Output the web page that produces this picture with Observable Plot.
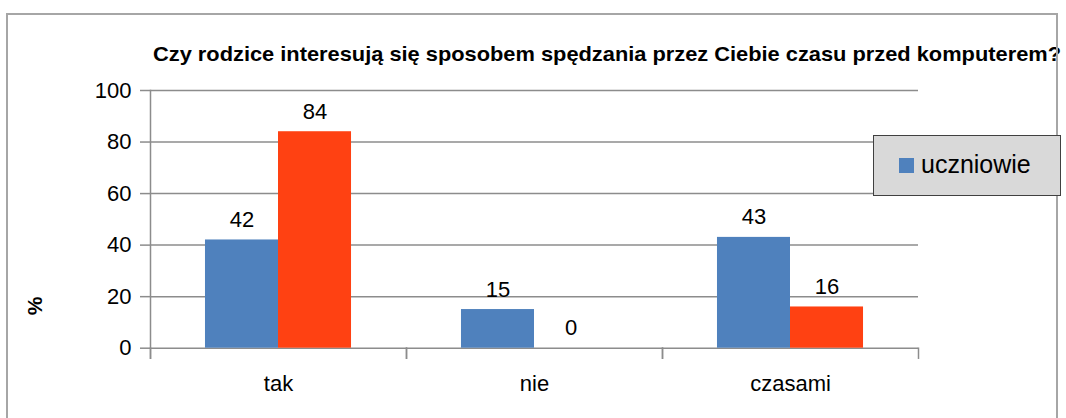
<!DOCTYPE html>
<html>
<head>
<meta charset="utf-8">
<script src="https://cdn.jsdelivr.net/npm/d3@7"></script>
<script src="https://cdn.jsdelivr.net/npm/@observablehq/plot@0.6"></script>
<style>
  html, body { margin: 0; padding: 0; background: white; }
  #wrap { position: relative; width: 1066px; height: 418px; overflow: hidden; font-family: "Liberation Sans", Arial, sans-serif; }
  #border { position: absolute; left: 6px; top: 13px; width: 1052px; height: 430px; border: 2px solid #a6a6a6; box-sizing: border-box; pointer-events: none; }
  #legend { position: absolute; left: 873px; top: 135px; width: 188px; height: 61px; background: #d9d9d9; border: 1.5px solid #404040; box-sizing: border-box; }
  #legend .sw { position: absolute; left: 25px; top: 22px; width: 15px; height: 15px; }
  #legend .lb { position: absolute; left: 47px; top: 13px; font-size: 25px; line-height: 30px; color: #000; }
  #pct { position: absolute; left: 35px; top: 306px; transform: translate(-50%, -50%) rotate(-90deg); font-weight: bold; font-size: 21px; }
</style>
</head>
<body>
<div id="wrap"></div>
<script>
const categories = ["tak", "nie", "czasami"];
const seriesNames = ["uczniowie", "rodzice"];
const uczniowie = [42, 15, 43];
const rodzice = [84, 0, 16];
const yTicks = [0, 20, 40, 60, 80, 100];
const colors = ["#4f81bd", "#ff4112"];
const titleText = "Czy rodzice interesują się sposobem spędzania przez Ciebie czasu przed komputerem?";
const legendNames = ["uczniowie"];
const yLabel = "%";

const data = categories.flatMap((c, i) => [
  {category: c, series: seriesNames[0], value: uczniowie[i]},
  {category: c, series: seriesNames[1], value: rodzice[i]}
]);

const gray = "#8c8c8c";
const chart = Plot.plot({
  width: 1066,
  height: 418,
  marginLeft: 150,
  marginRight: 148,
  marginTop: 90,
  marginBottom: 70.3,
  style: {fontFamily: "Liberation Sans, Arial, sans-serif", fontSize: "22px", background: "transparent", color: "black", overflow: "visible"},
  fx: {domain: categories, padding: 0, round: false, label: null, axis: null},
  x: {domain: seriesNames, paddingInner: 0, paddingOuter: 0.753, round: false, axis: null},
  y: {domain: [0, 100], label: null},
  color: {domain: seriesNames, range: colors},
  marks: [
    Plot.gridY(yTicks, {stroke: gray, strokeOpacity: 1, strokeWidth: 1.5}),
    Plot.barY(data, {fx: "category", x: "series", y: "value", fill: "series"}),
    Plot.text(data, {fx: "category", x: "series", y: "value", text: d => String(d.value), lineAnchor: "bottom", dy: -13, fill: "black", fontSize: 22}),
    Plot.axisY(yTicks, {tickSize: 10, tickPadding: 9, stroke: gray, strokeWidth: 1.5, fill: "black", label: null, fontSize: 22}),
    Plot.axisFx({anchor: "bottom", tickSize: 0, tickPadding: 27, label: null, fontSize: 22, fill: "black"}),
    Plot.frame({anchor: "left", facetAnchor: "left", insetBottom: -10, stroke: gray, strokeWidth: 1.5}),
    Plot.frame({anchor: "left", insetTop: 257.7, insetBottom: -10, stroke: gray, strokeWidth: 1.5}),
    Plot.frame({anchor: "right", insetTop: 257.7, insetBottom: -10, stroke: gray, strokeWidth: 1.5})
  ]
});

const wrap = document.getElementById("wrap");
wrap.appendChild(chart);

d3.select(chart).append("text")
  .attr("x", 153)
  .attr("y", 61)
  .attr("text-anchor", "start")
  .attr("textLength", 908)
  .attr("lengthAdjust", "spacingAndGlyphs")
  .attr("font-family", "Liberation Sans Narrow, Liberation Sans, Arial, sans-serif")
  .attr("font-weight", "bold")
  .attr("font-size", 20.5)
  .attr("fill", "black")
  .text(titleText);

const border = document.createElement("div");
border.id = "border";
wrap.appendChild(border);

const legend = document.createElement("div");
legend.id = "legend";
legendNames.forEach((n) => {
  const sw = document.createElement("div");
  sw.className = "sw";
  sw.style.background = colors[seriesNames.indexOf(n)];
  const lb = document.createElement("div");
  lb.className = "lb";
  lb.textContent = n;
  legend.appendChild(sw);
  legend.appendChild(lb);
});
wrap.appendChild(legend);

const pct = document.createElement("div");
pct.id = "pct";
pct.textContent = yLabel;
wrap.appendChild(pct);
</script>
</body>
</html>
